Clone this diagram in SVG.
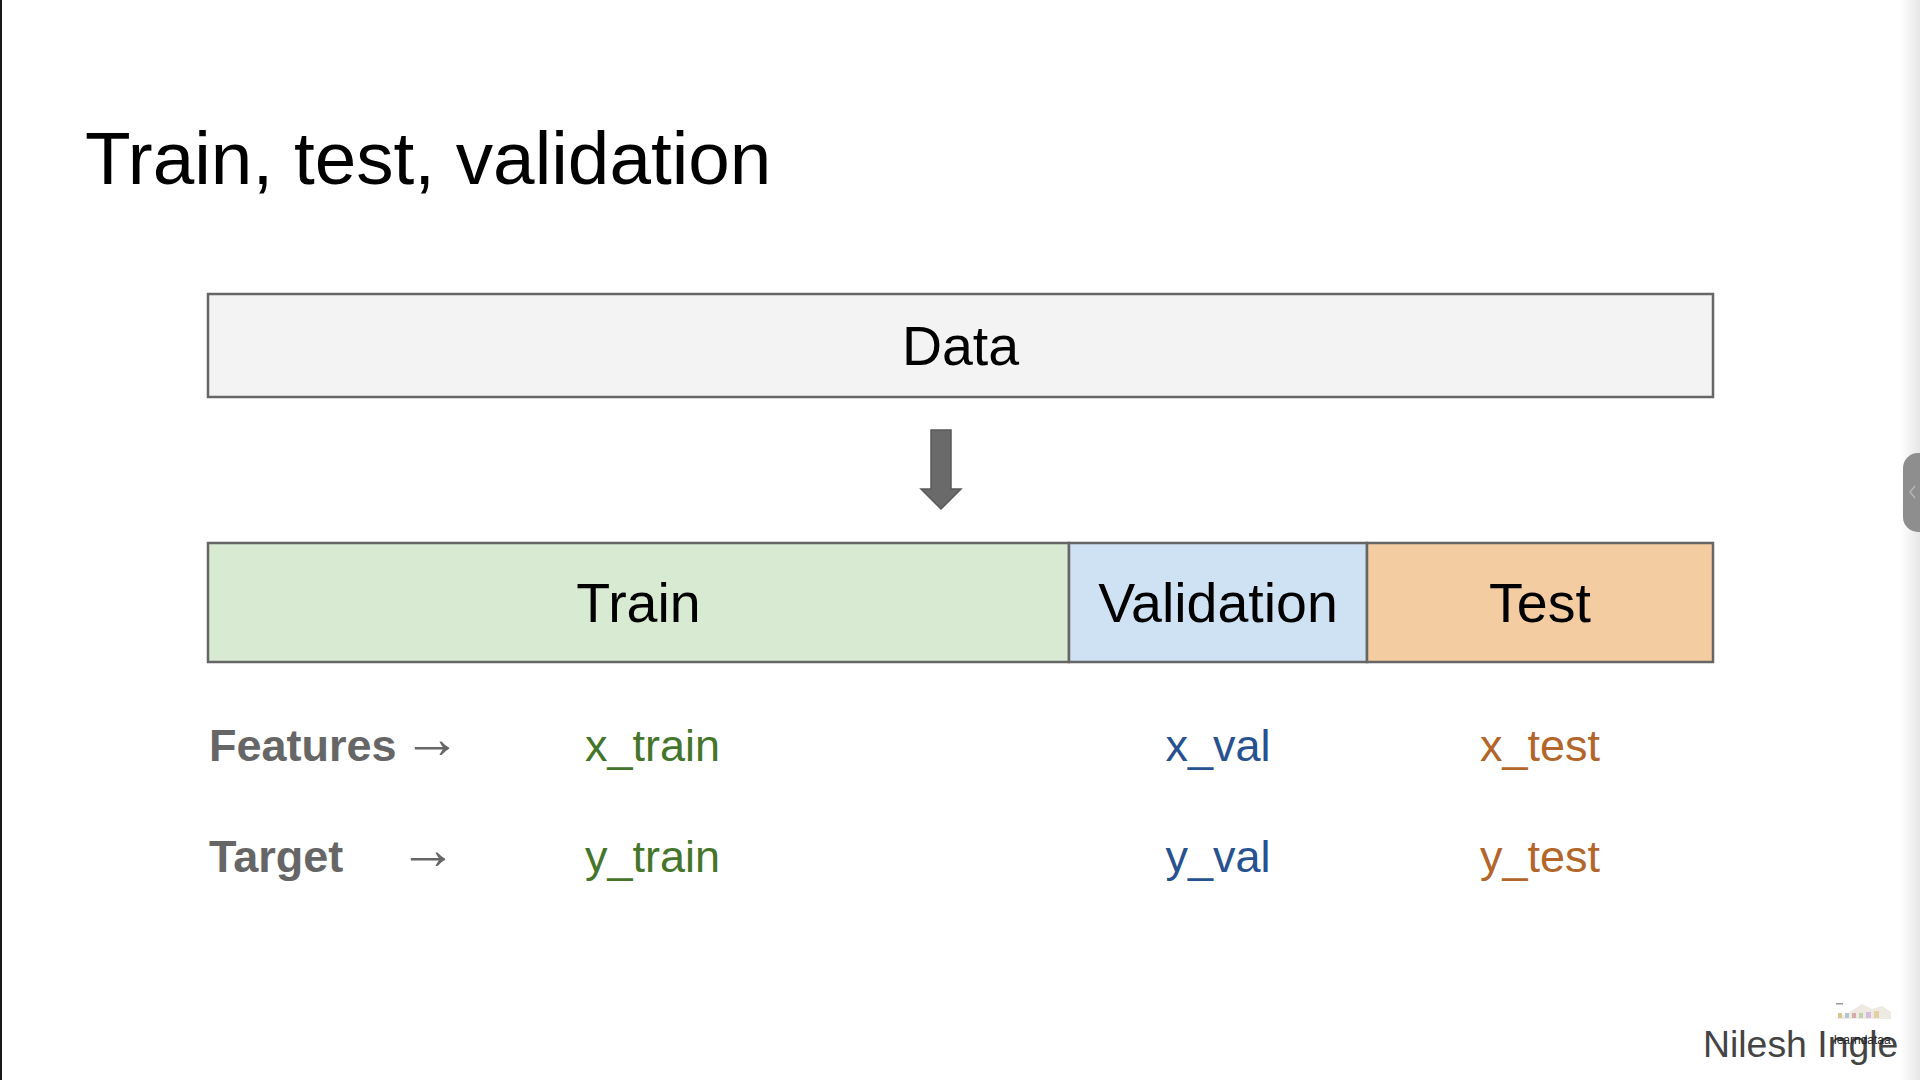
<svg xmlns="http://www.w3.org/2000/svg" width="1920" height="1080" viewBox="0 0 1920 1080">
  <defs>
    <linearGradient id="edgeShade" x1="0" y1="0" x2="1" y2="0">
      <stop offset="0" stop-color="#ffffff"/>
      <stop offset="1" stop-color="#e6e6e6"/>
    </linearGradient>
    <style>
      .box { stroke: #666666; stroke-width: 2.5; }
      .lbl { font-family: "Liberation Sans", Arial, sans-serif; fill: #000000; text-anchor: middle; font-size: 55.5px; }
      .var { font-family: "Liberation Sans", Arial, sans-serif; font-size: 45px; }
      .head { font-family: "Liberation Sans", Arial, sans-serif; font-size: 45px; font-weight: bold; fill: #666666; }
      .arr { font-family: "Liberation Sans", "DejaVu Sans", sans-serif; font-size: 58px; fill: #666666; }
      .green { fill: #45752a; }
      .blue { fill: #28528f; }
      .orange { fill: #b3662a; }
    </style>
  </defs>

  <!-- background -->
  <rect x="0" y="0" width="1920" height="1080" fill="#ffffff"/>
  <rect x="0" y="0" width="2" height="1080" fill="#1a1a1a"/>
  <rect x="1900" y="0" width="20" height="1080" fill="url(#edgeShade)"/>
  <rect x="1903" y="453" width="30" height="79" rx="15" ry="15" fill="#8e8e8e"/>
  <path d="M1915 486 L1910 492 L1915 498" fill="none" stroke="#b5b5b5" stroke-width="1.5"/>

  <!-- title -->
  <text id="title" x="85" y="184" font-family="'Liberation Sans', Arial, sans-serif" font-size="74.7" fill="#000000">Train, test, validation</text>

  <!-- nodes -->
  <g id="node-data">
    <rect class="box" x="208" y="294" width="1505" height="103" fill="#f3f3f3"/>
    <text class="lbl" x="960.5" y="365">Data</text>
  </g>
  <g id="node-train">
    <rect class="box" x="208" y="543" width="861" height="119" fill="#d9ead3"/>
    <text class="lbl" x="638.5" y="622">Train</text>
  </g>
  <g id="node-validation">
    <rect class="box" x="1069" y="543" width="298" height="119" fill="#cfe2f3"/>
    <text class="lbl" x="1218" y="622">Validation</text>
  </g>
  <g id="node-test">
    <rect class="box" x="1367" y="543" width="346" height="119" fill="#f4cca2"/>
    <text class="lbl" x="1540" y="622">Test</text>
  </g>

  <!-- connectors -->
  <g id="connectors">
    <path d="M931 430 L951 430 L951 489 L961 489 L941 509 L921 489 L931 489 Z" fill="#6a6a6a" stroke="#595959" stroke-width="1.5" stroke-linejoin="miter"/>
  </g>

  <!-- features / target table -->
  <g id="row-features">
    <text class="head" x="209" y="761">Features</text>
    <text class="arr" x="403" y="758">→</text>
    <text class="var green" x="585" y="761">x_train</text>
    <text class="var blue" x="1218" y="761" text-anchor="middle">x_val</text>
    <text class="var orange" x="1540" y="761" text-anchor="middle">x_test</text>
  </g>
  <g id="row-target">
    <text class="head" x="209" y="872">Target</text>
    <text class="arr" x="399" y="869">→</text>
    <text class="var green" x="585" y="872">y_train</text>
    <text class="var blue" x="1218" y="872" text-anchor="middle">y_val</text>
    <text class="var orange" x="1540" y="872" text-anchor="middle">y_test</text>
  </g>

  <!-- footer -->
  <g id="footer">
    <g id="logo" opacity="0.75">
      <path d="M1836 1019 L1850 1012 L1862 1004 L1872 1009 L1882 1006 L1891 1012 L1891 1019 Z" fill="#e9e3d8"/>
      <rect x="1838" y="1013" width="4" height="5" fill="#c9b36a"/>
      <rect x="1845" y="1013" width="4" height="5" fill="#9bb4c9"/>
      <rect x="1852" y="1013" width="4" height="5" fill="#c98f8f"/>
      <rect x="1859" y="1013" width="4" height="5" fill="#a7c49a"/>
      <rect x="1866" y="1012" width="5" height="6" fill="#c7a9d4"/>
      <rect x="1874" y="1011" width="5" height="7" fill="#d8c28a"/>
      <rect x="1836" y="1003" width="7" height="1.5" fill="#777777"/>
    </g>
    <text x="1703" y="1057" font-family="'Liberation Sans', Arial, sans-serif" font-size="37.4" fill="#444444">Nilesh Ingle</text>
    <text x="1834" y="1044" font-family="'Liberation Sans', Arial, sans-serif" font-size="12" fill="#222222">learndataa</text>
  </g>
</svg>
